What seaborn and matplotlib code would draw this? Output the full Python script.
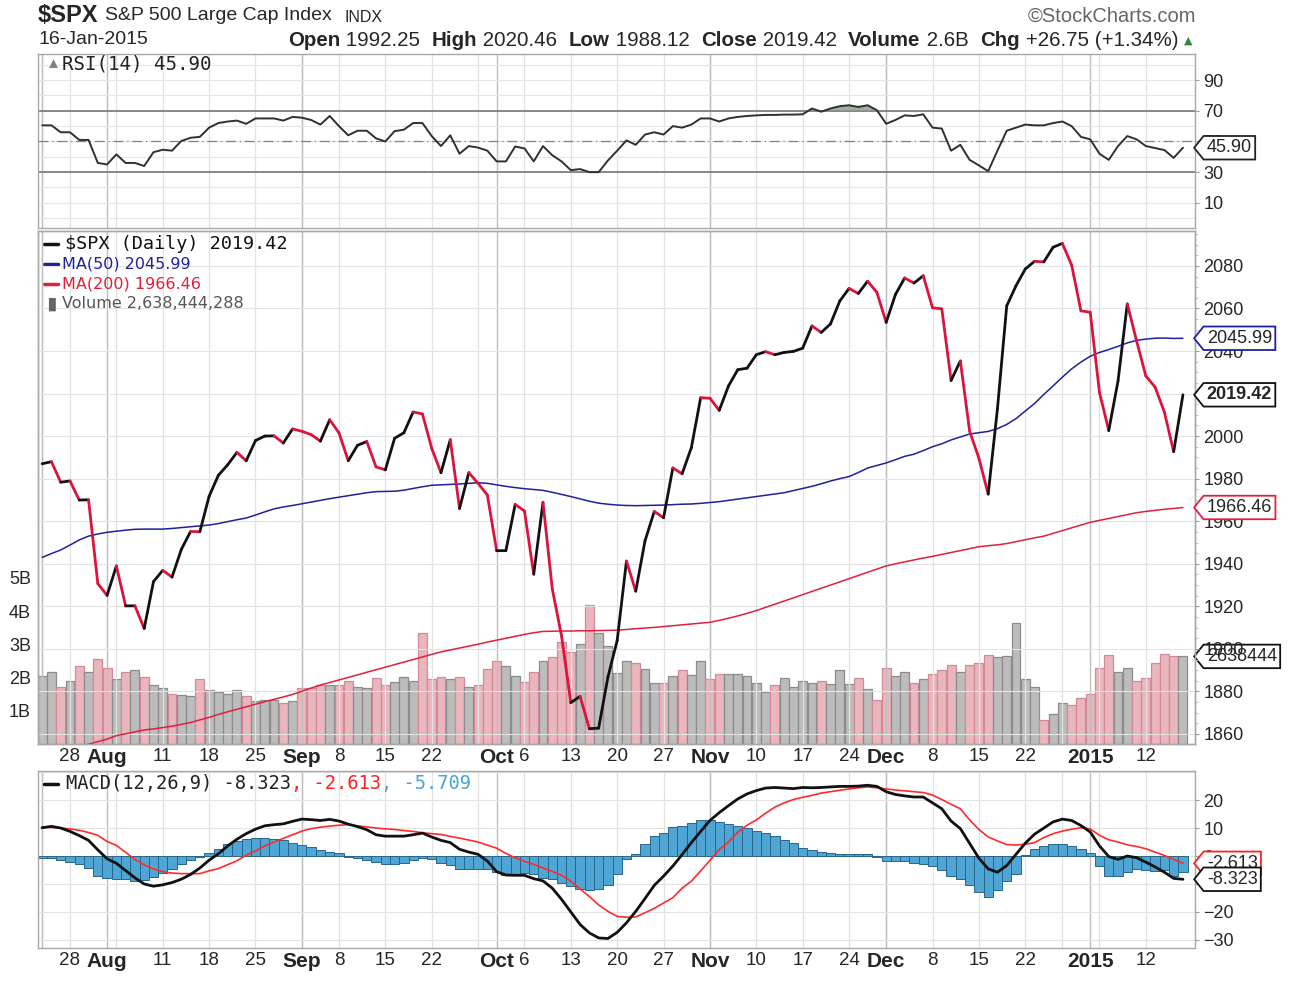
import numpy as np
import pandas as pd
import matplotlib
matplotlib.use("Agg")
import matplotlib.pyplot as plt
import seaborn as sns
from matplotlib.collections import LineCollection
from matplotlib.path import Path

sns.set_style("white")
plt.rcParams['font.family'] = ['Liberation Sans', 'DejaVu Sans']

# trading days 23-Jul-2014 .. 16-Jan-2015
holidays = ['2014-09-01', '2014-11-27', '2014-12-25', '2015-01-01']
dates = pd.bdate_range('2014-07-23', '2015-01-16')
dates = dates[~dates.isin(pd.to_datetime(holidays))]

close = [1987.01, 1987.98, 1978.34, 1978.91, 1969.95, 1970.07, 1930.67, 1925.15,
         1938.99, 1920.21, 1920.24, 1909.57, 1931.59, 1936.92, 1933.75, 1946.72,
         1955.18, 1955.06, 1971.74, 1981.60, 1986.51, 1992.37, 1988.40, 1997.92,
         2000.02, 2000.12, 1996.74, 2003.37, 2002.28, 2000.72, 1997.65, 2007.71,
         2001.54, 1988.44, 1995.69, 1997.45, 1985.54, 1984.13, 1998.98, 2001.57,
         2011.36, 2010.40, 1994.29, 1982.77, 1998.30, 1965.99, 1982.85, 1977.80,
         1972.29, 1946.16, 1946.17, 1967.90, 1964.82, 1935.10, 1968.89, 1928.21,
         1906.13, 1874.74, 1877.70, 1862.49, 1862.76, 1886.76, 1904.01, 1941.28,
         1927.11, 1950.82, 1964.58, 1961.63, 1985.05, 1982.30, 1994.65, 2018.05,
         2017.81, 2012.10, 2023.57, 2031.21, 2031.92, 2038.26, 2039.68, 2038.25,
         2039.33, 2039.82, 2041.32, 2051.80, 2048.72, 2052.75, 2063.50, 2069.41,
         2067.03, 2072.83, 2067.56, 2053.44, 2066.55, 2074.33, 2071.92, 2075.37,
         2060.31, 2059.82, 2026.14, 2035.33, 2002.33, 1989.63, 1972.74, 2012.89,
         2061.23, 2070.65, 2078.54, 2082.17, 2081.88, 2088.77, 2090.57, 2080.35,
         2058.90, 2058.20, 2020.58, 2002.61, 2025.90, 2062.14, 2044.81, 2028.26,
         2023.03, 2011.27, 1992.67, 2019.42]

ma50 = [1943.0, 1944.8, 1946.5, 1948.8, 1951.2, 1953.0, 1954.0, 1954.8, 1955.3, 1955.8,
        1956.2, 1956.3, 1956.3, 1956.3, 1956.6, 1957.0, 1957.4, 1957.8, 1958.2, 1958.9,
        1959.8, 1960.7, 1961.5, 1962.9, 1964.4, 1965.8, 1966.7, 1967.4, 1968.2, 1969.0,
        1969.8, 1970.6, 1971.3, 1972.0, 1972.7, 1973.4, 1973.9, 1974.0, 1974.1, 1974.6,
        1975.4, 1976.2, 1976.9, 1977.1, 1977.3, 1977.5, 1977.8, 1978.1, 1977.8, 1977.1,
        1976.4, 1975.8, 1975.3, 1974.9, 1974.5, 1973.6, 1972.6, 1971.6, 1970.5, 1969.4,
        1968.5, 1968.0, 1967.6, 1967.4, 1967.3, 1967.4, 1967.5, 1967.6, 1967.8, 1968.0,
        1968.1, 1968.4, 1968.8, 1969.2, 1969.8, 1970.4, 1971.0, 1971.6, 1972.2, 1972.8,
        1973.4, 1974.4, 1975.4, 1976.4, 1977.6, 1978.9, 1980.0, 1981.0, 1982.9, 1985.0,
        1986.2, 1987.4, 1988.9, 1990.5, 1991.5, 1993.2, 1995.0, 1996.4, 1998.2, 1999.6,
        2001.0, 2001.6, 2002.2, 2003.5, 2005.5, 2008.2, 2011.8, 2015.3, 2019.6, 2023.6,
        2027.7, 2031.6, 2034.8, 2037.5, 2039.3, 2040.7, 2042.2, 2043.8, 2045.0, 2045.6,
        2046.0, 2046.1, 2045.9, 2045.99]

ma200 = [1849.5, 1850.7, 1851.9, 1852.9, 1854.0, 1855.2, 1856.4, 1857.6, 1859.2, 1860.1,
         1861.0, 1861.9, 1862.4, 1863.0, 1863.7, 1864.5, 1865.4, 1866.6, 1867.8, 1869.2,
         1870.4, 1871.6, 1872.8, 1874.0, 1875.2, 1876.3, 1877.4, 1878.6, 1880.1, 1881.6,
         1883.0, 1884.2, 1885.4, 1886.6, 1887.8, 1889.0, 1890.2, 1891.4, 1892.6, 1893.8,
         1895.0, 1896.2, 1897.4, 1898.6, 1899.5, 1900.4, 1901.3, 1902.2, 1903.2, 1904.1,
         1905.0, 1905.9, 1906.8, 1907.6, 1908.2, 1908.3, 1908.4, 1908.4, 1908.5, 1908.5,
         1908.6, 1908.7, 1908.8, 1909.1, 1909.5, 1909.8, 1910.1, 1910.5, 1910.9, 1911.3,
         1911.7, 1912.1, 1912.5, 1913.4, 1914.4, 1915.5, 1916.7, 1918.0, 1919.5, 1921.0,
         1922.5, 1924.0, 1925.5, 1927.0, 1928.5, 1930.0, 1931.5, 1933.0, 1934.5, 1936.0,
         1937.5, 1939.0, 1940.0, 1940.9, 1941.8, 1942.7, 1943.5, 1944.4, 1945.3, 1946.2,
         1947.1, 1948.0, 1948.5, 1948.9, 1949.5, 1950.4, 1951.3, 1952.2, 1953.0, 1954.3,
         1955.6, 1956.9, 1958.2, 1959.5, 1960.4, 1961.3, 1962.2, 1963.1, 1964.0, 1964.6,
         1965.1, 1965.6, 1966.0, 1966.46]

# volume in billions
volume = [2.06, 2.16, 1.72, 1.90, 2.34, 2.16, 2.56, 2.29, 1.96, 2.16, 2.22, 2.01, 1.78,
          1.68, 1.52, 1.49, 1.46, 1.96, 1.62, 1.57, 1.52, 1.62, 1.44, 1.29, 1.34, 1.34,
          1.24, 1.29, 1.68, 1.68, 1.78, 1.78, 1.78, 1.89, 1.72, 1.68, 1.98, 1.78, 1.86,
          2.01, 1.90, 3.33, 1.96, 2.01, 1.96, 2.01, 1.72, 1.78, 2.27, 2.50, 2.34, 2.06,
          1.86, 2.16, 2.50, 2.63, 3.08, 2.78, 3.01, 4.18, 3.33, 2.96, 2.13, 2.50, 2.44,
          2.27, 1.85, 1.85, 2.05, 2.24, 2.07, 2.50, 1.95, 2.10, 2.10, 2.10, 2.05, 1.85,
          1.56, 1.79, 2.00, 1.72, 1.89, 1.83, 1.89, 1.80, 2.24, 1.80, 2.00, 1.67, 1.33,
          2.29, 2.05, 2.16, 1.85, 1.95, 2.10, 2.24, 2.38, 2.16, 2.38, 2.45, 2.67, 2.62,
          2.65, 3.65, 1.95, 1.72, 0.73, 0.90, 1.23, 1.17, 1.38, 1.50, 2.29, 2.67, 2.16,
          2.29, 1.89, 2.00, 2.45, 2.72, 2.65, 2.638]

rsi = [60.5, 60.5, 56, 56, 51, 51, 36, 35, 41.6, 36, 36, 34, 43, 44.6, 44, 50.3, 52.4,
       53, 59, 62, 63, 63.6, 61.5, 65, 65, 65, 63.6, 66, 65.5, 64, 61, 66.6, 60, 54, 57,
       57, 52, 50, 56.7, 57.7, 62, 62, 53.5, 47, 54, 42, 47, 46, 44, 37, 37, 46.7, 45.5,
       37, 47, 41, 37, 31.3, 32, 30, 30, 37.6, 44, 50.7, 47.8, 54.5, 56, 54.5, 60, 59,
       61, 65, 65, 63, 65, 66, 66.6, 67, 67.3, 67.3, 67.5, 67.5, 67.7, 71.5, 69.4, 71.5,
       73, 73.6, 72.5, 73.6, 70.4, 61.5, 64, 67, 66.6, 67.7, 59, 58.4, 44, 47.8, 38,
       34.4, 30.6, 44, 57, 59, 61, 60.5, 60.5, 62, 63, 60, 53, 51.4, 42, 38, 47, 53.5,
       51.4, 47, 45.7, 44.4, 39.3, 45.9]

macd = [10.1, 10.6, 10.0, 8.8, 7.3, 5.6, 2.2, -1.0, -2.6, -5.2, -7.8, -10.0, -10.8,
        -10.3, -9.5, -8.3, -6.6, -4.3, -1.5, 0.8, 3.6, 6.0, 8.0, 9.6, 10.8, 11.2, 11.5,
        12.4, 13.2, 13.0, 12.7, 13.1, 12.5, 11.4, 10.5, 9.4, 7.6, 7.1, 7.1, 7.1, 7.6,
        8.2, 6.8, 5.6, 4.8, 2.4, 1.4, 0.6, -1.8, -5.6, -6.8, -6.9, -6.9, -8.1, -8.9,
        -11.5, -15.5, -20.0, -24.5, -27.5, -29.3, -29.5, -27.3, -23.9, -19.8, -15.2,
        -10.5, -7.2, -3.6, 0.5, 4.8, 8.8, 12.7, 15.5, 18.0, 20.4, 22.2, 23.4, 24.3, 24.5,
        24.3, 24.1, 24.5, 24.4, 24.5, 24.7, 24.9, 24.9, 25.0, 25.3, 24.9, 23.0, 22.0,
        21.5, 21.1, 21.1, 19.0, 16.9, 12.5, 9.8, 4.5, -0.8, -4.6, -5.8, -3.4, 0.6, 4.6,
        7.8, 10.0, 12.2, 13.2, 12.7, 10.9, 8.6, 3.6, -0.2, -1.2, 0.0, -0.6, -2.2, -3.9,
        -5.8, -8.0, -8.323]

signal = [10.4, 10.2, 10.0, 9.7, 9.2, 8.4, 7.4, 5.2, 3.8, 1.3, -1.2, -3.2, -4.6, -5.6,
          -6.1, -6.3, -6.3, -6.3, -5.3, -4.5, -3.1, -1.7, 0.3, 1.8, 3.6, 5.0, 6.3, 7.6,
          8.9, 9.8, 10.3, 10.7, 11.0, 11.2, 10.8, 10.4, 10.0, 9.7, 9.5, 9.1, 8.8, 8.3,
          8.0, 7.7, 7.0, 6.4, 5.7, 5.0, 3.9, 2.8, 0.9, -0.6, -1.9, -3.0, -4.3, -5.5,
          -6.9, -9.0, -11.8, -14.5, -17.5, -19.8, -21.6, -21.9, -21.8, -20.3, -18.7,
          -16.8, -14.9, -11.5, -9.0, -5.3, -1.6, 2.3, 5.0, 8.5, 11.0, 12.9, 15.3, 17.5,
          19.0, 20.2, 21.0, 21.7, 22.5, 23.0, 23.5, 24.0, 24.4, 24.7, 24.4, 24.0, 23.6,
          23.3, 23.0, 22.7, 21.8, 20.2, 18.5, 16.9, 12.9, 9.5, 6.8, 5.4, 4.1, 3.9, 4.2,
          4.8, 6.6, 8.0, 8.9, 9.6, 10.1, 9.7, 7.4, 5.8, 5.0, 4.0, 3.4, 2.6, 1.4, 0.2,
          -1.2, -2.613]

hist = [-0.6, -0.8, -1.4, -2.2, -2.9, -4.2, -7.0, -7.9, -8.1, -8.3, -8.9, -8.7, -7.6,
        -6.0, -4.5, -2.9, -1.6, -0.2, 1.2, 2.6, 4.4, 5.2, 6.2, 6.4, 6.4, 6.2, 5.6, 4.8,
        4.0, 3.2, 2.1, 1.6, 1.0, -0.2, -0.7, -1.3, -2.3, -2.7, -2.7, -2.5, -1.5, -0.7,
        -1.2, -2.5, -3.3, -4.5, -4.5, -4.5, -4.8, -5.8, -6.9, -6.9, -6.0, -6.3, -7.9,
        -8.4, -9.5, -10.9, -11.9, -12.3, -11.9, -10.2, -6.5, -1.2, 0.8, 4.4, 7.0, 8.4,
        10.2, 10.8, 11.8, 13.0, 13.0, 12.3, 11.4, 10.8, 10.0, 8.9, 8.2, 7.2, 5.8, 4.5,
        3.0, 2.2, 1.4, 1.0, 0.7, 0.7, 0.7, 0.6, -0.5, -1.8, -1.9, -1.9, -2.4, -2.8, -3.6,
        -5.1, -7.2, -8.1, -10.2, -12.7, -14.5, -12.0, -9.0, -6.3, 0.5, 2.4, 3.6, 4.2,
        4.2, 3.6, 2.4, 1.0, -3.6, -7.2, -7.2, -5.8, -4.8, -5.1, -5.4, -5.1, -7.0, -5.709]

tick_dates = ['2014-07-28', '2014-08-01', '2014-08-11', '2014-08-18', '2014-08-25',
              '2014-09-02', '2014-09-08', '2014-09-15', '2014-09-22', '2014-10-01',
              '2014-10-06', '2014-10-13', '2014-10-20', '2014-10-27', '2014-11-03',
              '2014-11-10', '2014-11-17', '2014-11-24', '2014-12-01', '2014-12-08',
              '2014-12-15', '2014-12-22', '2015-01-02', '2015-01-12']
tick_labels = ['28', 'Aug', '11', '18', '25', 'Sep', '8', '15', '22', 'Oct', '6', '13',
               '20', '27', 'Nov', '10', '17', '24', 'Dec', '8', '15', '22', '2015', '12']
month_labels = ['Aug', 'Sep', 'Oct', 'Nov', 'Dec', '2015']

x = np.arange(len(dates))
close = np.array(close)
up = np.r_[True, close[1:] >= close[:-1]]

# first trading day of each week / month
wk = pd.Series(x, index=dates)
iso = dates.isocalendar()
week_idx = wk.groupby([iso.year.values, iso.week.values]).first().values
month_idx = wk.groupby([dates.year, dates.month]).first().values
tick_idx = [int(np.where(dates == pd.Timestamp(d))[0][0]) for d in tick_dates]

W, H = 1289, 981
fig = plt.figure(figsize=(W / 100, H / 100), dpi=100)


def box(top, bottom, left=38, right=1195):
    return [left / W, 1 - bottom / H, (right - left) / W, (bottom - top) / H]


ax_rsi = fig.add_axes(box(54, 228))
ax_px = fig.add_axes(box(231, 744))
ax_vol = ax_px.twinx()
ax_macd = fig.add_axes(box(771, 948))
ax_px.set_zorder(3)
ax_vol.set_zorder(2)
ax_px.patch.set_visible(False)

xlim = (-0.45, 124.3)
for a in (ax_rsi, ax_px, ax_vol, ax_macd):
    a.set_xlim(*xlim)
    for s in a.spines.values():
        s.set_color('#a8a8a8')
        s.set_linewidth(1)

for a in (ax_rsi, ax_px, ax_macd):
    for i in week_idx:
        a.axvline(i, color='#e2e2e2', lw=0.9, zorder=0)
    for i in month_idx:
        a.axvline(i, color='#bdbdbd', lw=1.0, zorder=0)

# ---------- RSI ----------
ax_rsi.set_ylim(-6.4, 107)
for v in range(0, 101, 10):
    ax_rsi.axhline(v, color='#e6e6e6', lw=0.8, zorder=0)
ax_rsi.axhline(70, color='#808080', lw=1.3, zorder=1)
ax_rsi.axhline(30, color='#808080', lw=1.3, zorder=1)
ax_rsi.axhline(50, color='#808080', lw=0.9, ls=(0, (8, 3, 1, 3)), zorder=1)
rsi_a = np.array(rsi)
ax_rsi.fill_between(x, 70, rsi_a, where=rsi_a > 70, interpolate=True, color='#8a9a8a', alpha=0.8, lw=0)
sns.lineplot(x=x, y=rsi_a, ax=ax_rsi, color='#303030', lw=1.4)
ax_rsi.yaxis.tick_right()
ax_rsi.set_yticks([10, 30, 50, 70, 90])
ax_rsi.set_ylabel('')

# ---------- price + volume ----------
vol_c = np.where(up, '#bcbcbc', '#e8b6bc')
vol_e = np.where(up, '#8c8c8c', '#d48a96')
ax_vol.bar(x, volume, width=0.96, color=vol_c, edgecolor=vol_e, lw=0.9)
ax_vol.set_ylim(0, 15.45)
ax_vol.yaxis.tick_left()
ax_vol.set_yticks([1, 2, 3, 4, 5], ['1B', '2B', '3B', '4B', '5B'])
ax_vol.tick_params(axis='y', length=0, labelsize=13, pad=5)

ax_px.set_ylim(1855.3, 2096.4)
for v in range(1860, 2100, 20):
    ax_px.axhline(v, color='#e3e3e3', lw=0.8, zorder=0)
sns.lineplot(x=x, y=ma200, ax=ax_px, color='#e0203c', lw=1.1)
sns.lineplot(x=x, y=ma50, ax=ax_px, color='#20209a', lw=1.1)
segs = np.stack([np.c_[x[:-1], close[:-1]], np.c_[x[1:], close[1:]]], axis=1)
seg_c = np.where(up[1:], '#111111', '#dc143c')
ax_px.add_collection(LineCollection(segs, colors=seg_c, linewidths=2.0, capstyle='round', joinstyle='round', zorder=4))
ax_px.yaxis.tick_right()
ax_px.set_yticks(range(1860, 2081, 20))
ax_px.set_yticks(range(1860, 2096, 5), minor=True)
ax_px.set_ylabel('')
ax_vol.set_ylabel('')

# ---------- MACD ----------
ax_macd.set_ylim(-32.9, 30.4)
for v in range(-30, 31, 10):
    ax_macd.axhline(v, color='#e3e3e3', lw=0.8, zorder=0)
ax_macd.bar(x, hist, width=1.0, color='#4fa6d4', edgecolor='#27668c', lw=0.7, zorder=1)
sns.lineplot(x=x, y=signal, ax=ax_macd, color='#ff2a2a', lw=1.2, zorder=3)
sns.lineplot(x=x, y=macd, ax=ax_macd, color='#111111', lw=2.0, zorder=4)
ax_macd.yaxis.tick_right()
ax_macd.set_yticks([-30, -20, -10, 0, 10, 20])
ax_macd.set_ylabel('')

for a in (ax_rsi, ax_px, ax_macd):
    a.tick_params(axis='y', which='major', length=3, color='#999999', labelsize=13, pad=3)
    a.tick_params(axis='y', which='minor', length=2, color='#bbbbbb')
    a.set_xticks(x, minor=True)
    a.tick_params(axis='x', which='minor', length=2, color='#c8c8c8', direction='out')
ax_rsi.set_xticks(tick_idx, [''] * len(tick_idx))
ax_rsi.tick_params(axis='x', which='major', length=0)
for a in (ax_px, ax_macd):
    a.set_xticks(tick_idx, tick_labels)
    a.tick_params(axis='x', which='major', length=0, labelsize=13.5, pad=3)
    for t in a.get_xticklabels():
        if t.get_text() in month_labels:
            t.set_fontweight('bold')
            t.set_fontsize(15)


# ---------- value tags on the right axis ----------
def tag_shape(x0, y0, width, height, mutation_size):
    pad = 0.18 * mutation_size
    x0, y0 = x0 - pad, y0 - pad
    w, h = width + 2 * pad, height + 2 * pad
    tip = 0.4 * h
    return Path([(x0, y0), (x0 + w, y0), (x0 + w, y0 + h), (x0, y0 + h),
                 (x0 - tip, y0 + h / 2), (x0, y0)], closed=True)


def tag(ax, y, text, ec, bold=False):
    ax.annotate(text, xy=(1, y), xycoords=('axes fraction', 'data'), xytext=(8.5, 0),
                textcoords='offset points', ha='left', va='center', fontsize=13,
                fontweight='bold' if bold else 'normal', annotation_clip=False, zorder=10,
                bbox=dict(boxstyle=tag_shape, fc='white', ec=ec, lw=1.3))


tag(ax_rsi, rsi[-1], '45.90', '#222222')
tag(ax_px, ma50[-1], '2045.99', '#2020a0')
tag(ax_px, close[-1], '2019.42', '#111111', bold=True)
tag(ax_px, ma200[-1], '1966.46', '#e0203c')
tag(ax_vol, volume[-1], '2638444', '#111111')
tag(ax_macd, signal[-1], '-2.613', '#ff2020')
tag(ax_macd, macd[-1], '-8.323', '#111111')

# ---------- panel legends ----------
mono = ['DejaVu Sans Mono']
narrow = ['Liberation Sans Narrow', 'DejaVu Sans']


def px(xp, yp):
    return xp / W, 1 - yp / H


fig.text(*px(62, 64), 'RSI(14) 45.90', family=mono, fontsize=13.8, va='center', color='#222222')
fig.text(*px(46, 64), '\u25b2', fontsize=11, va='center', color='#7a8a7a')
for yp, col in [(244, '#111111'), (264, '#20209a'), (284, '#e0203c')]:
    fig.lines.append(plt.Line2D([44 / W, 58 / W], [1 - yp / H] * 2, color=col, lw=2.5, transform=fig.transFigure))
fig.text(*px(65, 244), '$SPX (Daily) 2019.42', family=mono, fontsize=13.3, va='center', color='#111111', parse_math=False)
fig.text(*px(62, 264), 'MA(50) 2045.99', family=narrow, fontsize=11.5, va='center', color='#20209a')
fig.text(*px(62, 284), 'MA(200) 1966.46', family=narrow, fontsize=11.5, va='center', color='#e0203c')
fig.text(*px(62, 304), 'Volume 2,638,444,288', family=narrow, fontsize=11.5, va='center', color='#555555')
fig.text(*px(44, 304), '\u2590\u258c', fontsize=8, va='center', color='#666666')
fig.lines.append(plt.Line2D([44 / W, 58 / W], [1 - 784 / H] * 2, color='#111111', lw=2.5, transform=fig.transFigure))
macd_parts = [('MACD(12,26,9) -8.323', '#222222'), (', -2.613', '#ff2020'), (', -5.709', '#4aa3d8')]

# ---------- header ----------
fig.text(*px(38, 16), '$SPX', fontsize=17, fontweight='bold', va='center', parse_math=False)
fig.text(*px(105, 16), 'S&P 500 Large Cap Index', fontsize=14, va='center')
fig.text(*px(345, 17), 'INDX', fontsize=11.5, va='center')
fig.text(*px(38, 40), '16-Jan-2015', fontsize=14, va='center')
fig.text(*px(1196, 16), '\u00a9StockCharts.com', fontsize=14.5, va='center', ha='right', color='#666666')

renderer = fig.canvas.get_renderer()


def run_text(xp, yp, parts, **kw):
    for s, style in parts:
        t = fig.text(*px(xp, yp), s, va='center', parse_math=False, **style, **kw)
        xp += t.get_window_extent(renderer).width
    return xp


head = [('Open', {'fontweight': 'bold'}), (' 1992.25  ', {}), ('High', {'fontweight': 'bold'}),
        (' 2020.46  ', {}), ('Low', {'fontweight': 'bold'}), (' 1988.12  ', {}),
        ('Close', {'fontweight': 'bold'}), (' 2019.42  ', {}), ('Volume', {'fontweight': 'bold'}),
        (' 2.6B  ', {}), ('Chg', {'fontweight': 'bold'}), (' +26.75 (+1.34%) ', {})]
xe = run_text(288, 40, head, fontsize=14.8)
fig.text(*px(xe, 41), '\u25b2', fontsize=8, va='center', color='#2e8b3a', family=['DejaVu Sans'])

run_text(66, 784, [(s, {'color': c}) for s, c in macd_parts], family=mono, fontsize=13.5)

fig.savefig('out.png', dpi=100)
